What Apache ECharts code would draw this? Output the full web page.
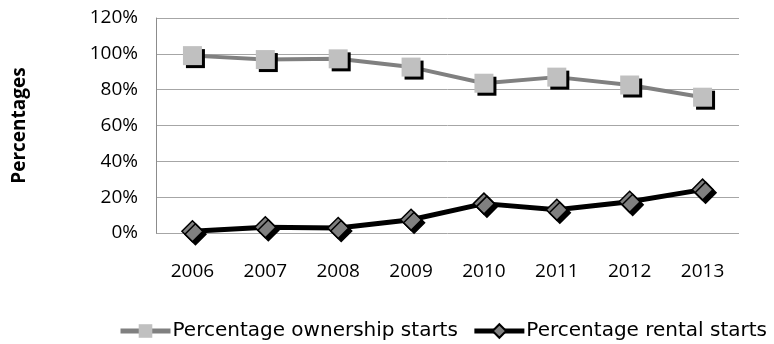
<!DOCTYPE html>
<html>
<head>
<meta charset="utf-8">
<script src="https://cdn.jsdelivr.net/npm/echarts@6/dist/echarts.min.js"></script>
<style>
  html, body { margin: 0; padding: 0; background: #fff; }
  #chart { width: 774px; height: 344px; }
</style>
</head>
<body>
<div id="chart"></div>
<script>
// Housing starts split by tenure, share of all starts per year
const years = ['2006', '2007', '2008', '2009', '2010', '2011', '2012', '2013'];
const ownershipShare = [99.0, 96.8, 97.2, 92.6, 83.6, 87.0, 82.6, 75.8];
const rentalShare = [1.0, 3.2, 2.8, 7.4, 16.4, 13.0, 17.4, 24.2];
const yTicks = { min: 0, max: 120, step: 20 };

const FONT = 'Open Sans';
const LEGEND_FONT = 'DejaVu Sans';

const chart = echarts.init(document.getElementById('chart'), null, { renderer: 'canvas' });

chart.setOption({
  animation: false,
  backgroundColor: '#ffffff',
  textStyle: { fontFamily: FONT },
  grid: { left: 156, right: 35, top: 18, bottom: 111, containLabel: false },
  xAxis: {
    type: 'category',
    data: years,
    boundaryGap: true,
    axisLine: { show: false },
    axisTick: { show: false },
    axisLabel: { color: '#000', fontSize: 19, fontFamily: FONT, margin: 29 }
  },
  yAxis: {
    type: 'value',
    min: yTicks.min,
    max: yTicks.max,
    interval: yTicks.step,
    name: 'Percentages',
    nameLocation: 'middle',
    nameGap: 127,
    nameRotate: 90,
    nameTextStyle: { color: '#000', fontSize: 19, fontWeight: 'bold', fontFamily: FONT },
    axisLine: { show: true, lineStyle: { color: '#8c8c8c', width: 1 } },
    axisTick: { show: false },
    axisLabel: { color: '#000', fontSize: 19, fontFamily: FONT, margin: 18, formatter: '{value}%' },
    splitLine: { show: true, lineStyle: { color: '#a6a6a6', width: 1 } }
  },
  legend: {
    left: 118,
    top: 321,
    width: 656,
    padding: 0,
    itemWidth: 50,
    itemHeight: 17,
    itemGap: 14,
    textStyle: { color: '#000', fontSize: 20, fontFamily: LEGEND_FONT, padding: [0, 0, 0, -3] },
    data: [
      { name: 'Percentage ownership starts', lineStyle: { width: 5, color: '#808080' } },
      { name: 'Percentage rental starts', lineStyle: { width: 5, color: '#000' } }
    ]
  },
  series: [
    {
      name: 'Percentage ownership starts',
      type: 'line',
      data: ownershipShare,
      symbol: 'rect',
      symbolSize: 19,
      showAllSymbol: true,
      lineStyle: { color: '#808080', width: 4 },
      itemStyle: {
        color: '#c0c0c0',
        borderWidth: 0,
        shadowColor: '#000',
        shadowBlur: 0,
        shadowOffsetX: 3,
        shadowOffsetY: 3
      },
      z: 2
    },
    {
      name: 'Percentage rental starts',
      type: 'line',
      data: rentalShare,
      symbol: 'diamond',
      symbolSize: 21,
      showAllSymbol: true,
      lineStyle: { color: '#000000', width: 5 },
      itemStyle: {
        color: '#808080',
        borderColor: '#000',
        borderWidth: 1.5,
        shadowColor: '#000',
        shadowBlur: 0,
        shadowOffsetX: 3,
        shadowOffsetY: 3
      },
      z: 3
    }
  ]
});
</script>
</body>
</html>
